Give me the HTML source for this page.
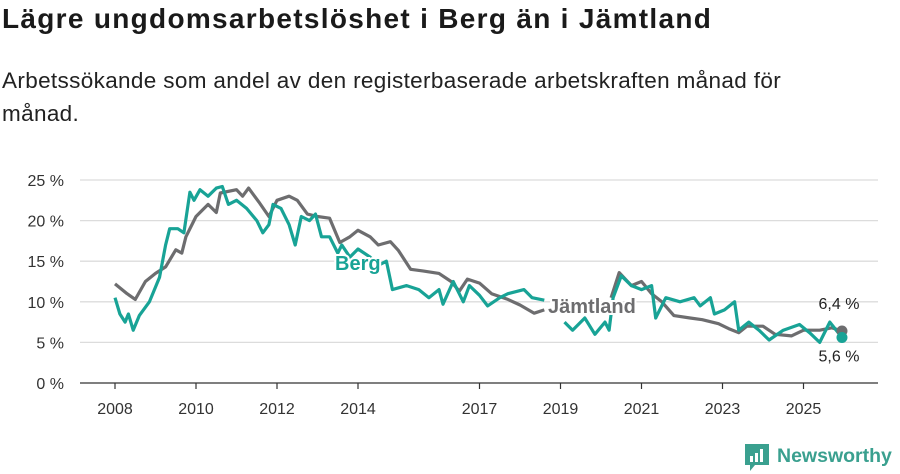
<!DOCTYPE html>
<html><head><meta charset="utf-8"><style>
body{margin:0;width:900px;height:474px;background:#fff;overflow:hidden;font-family:"Liberation Sans",sans-serif;}
h1{position:absolute;left:2px;top:3px;margin:0;font-size:28px;font-weight:bold;color:#1a1a1a;letter-spacing:1.3px}
p{position:absolute;left:2px;top:64px;margin:0;width:840px;font-size:22.5px;line-height:33px;color:#222;letter-spacing:0.35px}
svg{position:absolute;left:0;top:0}
</style></head><body>
<h1>Lägre ungdomsarbetslöshet i Berg än i Jämtland</h1>
<p>Arbetssökande som andel av den registerbaserade arbetskraften månad för månad.</p>
<svg id="c" width="900" height="474"></svg>
<script>
const yTicks=[0,5,10,15,20,25];
const xTickYears=[2008,2010,2012,2014,2017,2019,2021,2023,2025];
const jamtYears=[2008.0,2008.3,2008.5,2008.75,2009.0,2009.25,2009.5,2009.65,2009.75,2010.0,2010.3,2010.5,2010.6,2011.0,2011.15,2011.3,2011.55,2011.8,2012.0,2012.3,2012.5,2012.75,2013.0,2013.3,2013.55,2013.8,2014.0,2014.3,2014.5,2014.8,2015.0,2015.3,2015.6,2016.0,2016.3,2016.5,2016.7,2017.0,2017.3,2017.7,2018.0,2018.35,2018.6,2019.5,2020.25,2020.45,2020.75,2021.0,2021.25,2021.5,2021.8,2022.2,2022.5,2022.9,2023.15,2023.4,2023.6,2024.0,2024.3,2024.7,2025.0,2025.4,2025.7,2025.95];
const jamtValues=[12.2,11,10.3,12.5,13.5,14.3,16.4,16,18,20.5,22,21,23.4,23.8,23,24,22.3,20.5,22.5,23,22.5,20.8,20.5,20.3,17.3,18,18.8,18,17,17.4,16.3,14,13.8,13.5,12.5,11.3,12.8,12.3,11,10.3,9.6,8.6,9,null,10.5,13.6,12,12.5,11,10,8.3,8,7.8,7.3,6.7,6.2,7,7,6,5.8,6.5,6.5,6.8,6.4];
const bergYears=[2008.0,2008.12,2008.25,2008.33,2008.45,2008.6,2008.85,2009.1,2009.25,2009.35,2009.55,2009.7,2009.85,2009.95,2010.1,2010.3,2010.5,2010.65,2010.8,2011.0,2011.25,2011.5,2011.65,2011.8,2011.9,2012.1,2012.3,2012.45,2012.6,2012.8,2012.95,2013.1,2013.3,2013.5,2013.6,2013.8,2014.0,2014.3,2014.5,2014.7,2014.85,2015.2,2015.5,2015.75,2016.0,2016.1,2016.35,2016.6,2016.75,2017.0,2017.2,2017.5,2017.7,2018.1,2018.3,2018.6,2018.85,2019.1,2019.3,2019.6,2019.85,2020.1,2020.2,2020.3,2020.5,2020.75,2021.0,2021.25,2021.35,2021.6,2021.95,2022.3,2022.45,2022.7,2022.8,2023.05,2023.3,2023.4,2023.65,2023.9,2024.15,2024.5,2024.9,2025.15,2025.4,2025.65,2025.95];
const bergValues=[10.5,8.5,7.5,8.5,6.5,8.3,10,13,17,19,19,18.5,23.5,22.5,23.8,23,24,24.2,22,22.5,21.5,20,18.5,19.5,22,21.5,19.5,17,20.5,20,20.8,18,18,16,17,15.5,16.5,15.5,14.5,15,11.5,12,11.5,10.5,11.5,9.7,12.5,10,12,10.8,9.5,10.5,11,11.5,10.5,10.2,null,7.5,6.5,8,6,7.5,6.5,10.5,13.2,12,11.5,12,8,10.5,10,10.5,9.5,10.5,8.5,9,10,6.5,7.5,6.5,5.3,6.5,7.2,6.2,5,7.5,5.6];
const NS='http://www.w3.org/2000/svg';
const svg=document.getElementById('c');
const X=y=>115+(y-2008)*40.5;
const Y=v=>383-v*8.12;
function el(t,a,txt){const e=document.createElementNS(NS,t);for(const k in a)e.setAttribute(k,a[k]);if(txt!=null)e.textContent=txt;svg.appendChild(e);return e;}
yTicks.forEach(t=>{
 const g=el('line',{x1:80,x2:878,y1:Y(t),y2:Y(t),stroke:t===0?'#333':'#dcdcdc','stroke-width':1.3});
 
 
 const l=el('text',{x:64,y:Y(t)+6,'text-anchor':'end','font-size':16,fill:'#333'},t+' %');
 
 
});
xTickYears.forEach(t=>{
 const k=el('line',{x1:X(t),x2:X(t),y1:383,y2:389,stroke:'#333','stroke-width':1.2});
 
 
 const l=el('text',{x:X(t),y:414,'text-anchor':'middle','font-size':16,fill:'#333'},String(t));
 
 
});
function path(ys,vs){let d='',pen=false;ys.forEach((y,i)=>{const v=vs[i];if(v==null){pen=false;return;}d+=(pen?'L':'M')+X(y).toFixed(1)+','+Y(v).toFixed(1);pen=true;});return d;}
const pj=el('path',{d:path(jamtYears,jamtValues),fill:'none',stroke:'#6d6d6f','stroke-width':3.2,'stroke-linejoin':'round'});


const pb=el('path',{d:path(bergYears,bergValues),fill:'none',stroke:'#18a396','stroke-width':3.2,'stroke-linejoin':'round'});


const lj=jamtValues[jamtValues.length-1],ly=jamtYears[jamtYears.length-1];
const lb=bergValues[bergValues.length-1],lby=bergYears[bergYears.length-1];
const dj=el('circle',{cx:X(ly),cy:Y(lj),r:5.5,fill:'#6d6d6f'});


const db=el('circle',{cx:X(lby),cy:Y(lb),r:5.5,fill:'#18a396'});


const tj=el('text',{x:X(ly)-3,y:Y(lj)-22,'text-anchor':'middle','font-size':16,fill:'#222'},String(lj).replace('.',',')+' %');


const tb=el('text',{x:X(lby)-3,y:Y(lb)+24,'text-anchor':'middle','font-size':16,fill:'#222'},String(lb).replace('.',',')+' %');


const sb=el('text',{x:335,y:270,'font-size':20,'font-weight':'bold',fill:'#18a396',stroke:'#fff','stroke-width':4,'paint-order':'stroke'},'Berg');


const sj=el('text',{x:548,y:313,'font-size':20,'font-weight':'bold',fill:'#6d6d6f',stroke:'#fff','stroke-width':4,'paint-order':'stroke'},'Jämtland');


</script>
<div style="position:absolute;left:745px;top:444px;display:flex;align-items:center">
 <svg width="24" height="28" viewBox="0 0 24 28" style="position:static"><path d="M0 0H24V21H10L5 27V21H0Z" fill="#3aa08f"/><rect x="5" y="12" width="3" height="6" fill="#fff"/><rect x="10" y="9" width="3" height="9" fill="#fff"/><rect x="15" y="5" width="3" height="13" fill="#fff"/></svg>
 <span style="margin-left:8px;font-size:19.5px;font-weight:bold;color:#3aa08f;margin-top:-4px">Newsworthy</span>
</div>
</body></html>
